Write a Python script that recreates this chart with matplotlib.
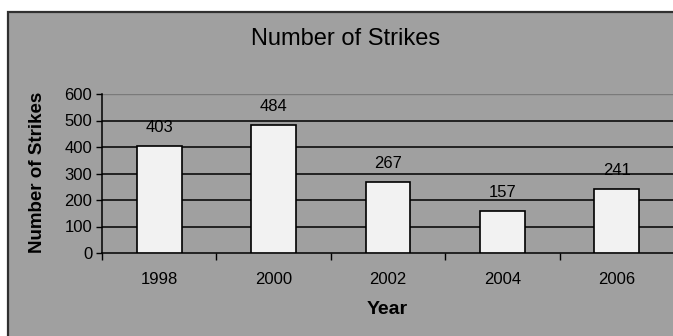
import matplotlib.pyplot as plt
from matplotlib.patches import Rectangle
import numpy as np

years = ['1998', '2000', '2002', '2004', '2006']
strikes = [403, 484, 267, 157, 241]
y_ticks = [0, 100, 200, 300, 400, 500, 600]

plt.rcParams['font.family'] = ['Liberation Sans', 'DejaVu Sans']

fig = plt.figure(figsize=(6.73, 3.36), dpi=100)
fig.patch.set_facecolor('white')

# gray chart area with dark border (cut off right and bottom)
bg = Rectangle((8 / 673, -0.05), 1.1, 1 - 12 / 336 + 0.05, transform=fig.transFigure,
               facecolor='#a0a0a0', edgecolor='#303030', linewidth=1.6, zorder=-10)
fig.patches.append(bg)

ax = fig.add_axes([102 / 673, 1 - 253 / 336, 572 / 673, 159 / 336])
ax.set_zorder(5)
ax.set_facecolor('none')

x = np.arange(len(years))
bars = ax.bar(x, strikes, width=0.39, color='#f2f2f2', edgecolor='black', linewidth=1.2, zorder=3)

for xi, v in zip(x, strikes):
    ax.annotate(str(v), (xi, v), xytext=(0, 8), textcoords='offset points',
                ha='center', va='bottom', fontsize=12, color='black', zorder=2)

ax.set_xlim(-0.5, len(years) - 0.5)
ax.set_ylim(0, 600)
ax.set_yticks(y_ticks)
ax.tick_params(axis='y', labelsize=12, length=4, width=1, direction='out', pad=3)

for y in y_ticks[1:-1]:
    ax.axhline(y, color='black', linewidth=1.1, zorder=1)
ax.axhline(600, color='#7a7a7a', linewidth=1.0, zorder=1)

ax.set_xticks(x)
ax.set_xticklabels(years)
ax.tick_params(axis='x', which='major', length=0, labelsize=12, pad=14)
ax.set_xticks(np.arange(len(years) + 1) - 0.5, minor=True)
ax.tick_params(axis='x', which='minor', length=5, width=1, direction='out')

for side in ['top', 'right']:
    ax.spines[side].set_visible(False)
ax.spines['left'].set_linewidth(1.1)
ax.spines['bottom'].set_linewidth(1.1)

fig.text(346 / 673, 1 - 39 / 336, 'Number of Strikes', ha='center', va='center', fontsize=17)
fig.text(38 / 673, 1 - 172 / 336, 'Number of Strikes', ha='center', va='center',
         rotation=90, fontsize=13.5, fontweight='bold')
fig.text(387 / 673, 1 - 310 / 336, 'Year', ha='center', va='center', fontsize=14, fontweight='bold')

fig.savefig('out.png', dpi=100)
